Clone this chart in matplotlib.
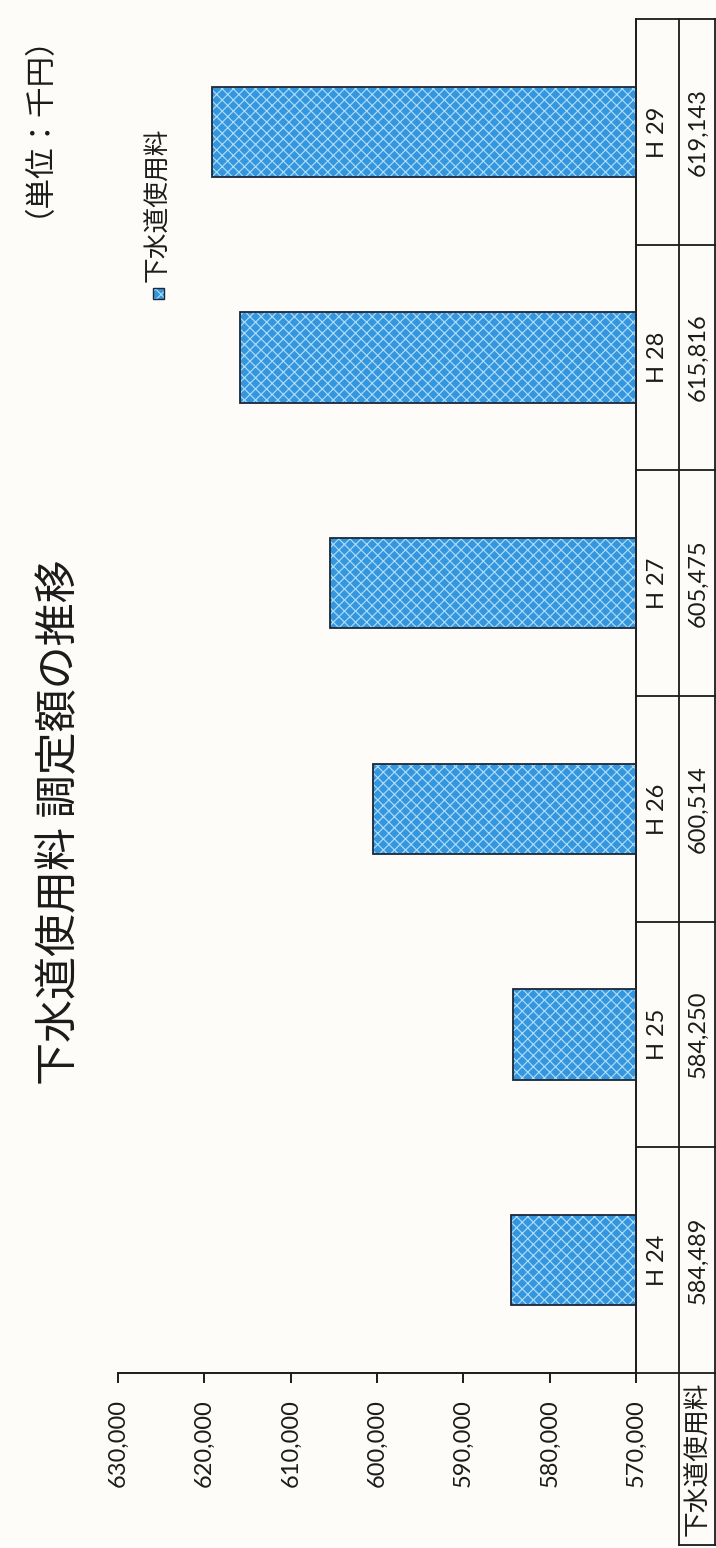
import matplotlib
matplotlib.use("Agg")
import matplotlib.pyplot as plt
from matplotlib.patches import Rectangle
from matplotlib.lines import Line2D
from matplotlib.transforms import blended_transform_factory
from matplotlib.ticker import FuncFormatter, MultipleLocator

# ---- data -------------------------------------------------------------
categories = ["H 24", "H 25", "H 26", "H 27", "H 28", "H 29"]
fees = [584489, 584250, 600514, 605475, 615816, 619143]
series_name = "下水道使用料"
title = "下水道使用料 調定額の推移"
unit_label = "（単位：千円）"
axis_min, axis_max, axis_step = 570000, 630000, 10000

# ---- style ------------------------------------------------------------
plt.rcParams["font.family"] = ["Lato", "Noto Sans CJK JP", "DejaVu Sans"]
plt.rcParams["hatch.linewidth"] = 0.85
INK = "#1b1b1b"
BAR_FACE = "#3596de"
BAR_HATCH = "#aadcf8"
BAR_EDGE = "#1c2838"
PAPER = "#fdfcf8"

W, H = 716, 1548
fig = plt.figure(figsize=(W / 100, H / 100), dpi=100, facecolor=PAPER)

# plot area (chart is laid out rotated: value axis runs along the bottom,
# categories run upward, data table on the right)
ax_left, ax_right, ax_top, ax_bottom = 118, 636, 19, 1373
ax = fig.add_axes([ax_left / W, 1 - ax_bottom / H,
                   (ax_right - ax_left) / W, (ax_bottom - ax_top) / H])
ax.set_facecolor("none")

ypos = list(range(len(categories)))
widths = [v - axis_min for v in fees]
ax.barh(ypos, widths, left=axis_min, height=0.4, color=BAR_FACE,
        hatch="xxx", edgecolor=BAR_HATCH, linewidth=0, zorder=2)
ax.barh(ypos, widths, left=axis_min, height=0.4, facecolor="none",
        edgecolor=BAR_EDGE, linewidth=1.3, zorder=3)

ax.set_xlim(axis_max, axis_min)
ax.set_ylim(-0.5, len(categories) - 0.5)
ax.xaxis.set_major_locator(MultipleLocator(axis_step))
ax.xaxis.set_major_formatter(FuncFormatter(lambda v, p: f"{int(v):,}"))
ax.tick_params(axis="x", direction="out", length=7, width=1.4, color=INK,
               pad=12, labelsize=17, labelcolor=INK, labelrotation=90)
for lbl in ax.get_xticklabels():
    lbl.set_va("top")
ax.set_yticks([])
for side in ("left", "top"):
    ax.spines[side].set_visible(False)
for side in ("bottom", "right"):
    ax.spines[side].set_linewidth(1.4)
    ax.spines[side].set_color(INK)

# ---- data table -------------------------------------------------------
col_a, col_b, col_c = 636 / W, 679 / W, 715 / W
trans = blended_transform_factory(fig.transFigure, ax.transData)
lw_tab = 1.3
for k in range(len(categories) + 1):
    fig.add_artist(Line2D([col_a, col_c], [k - 0.5, k - 0.5],
                          transform=trans, color=INK, lw=lw_tab))
for x in (col_b, col_c):
    fig.add_artist(Line2D([x, x], [-0.5, len(categories) - 0.5],
                          transform=trans, color=INK, lw=lw_tab))
# header cell below the table body
hdr_bottom = 1 - 1545 / H
hdr_top = 1 - ax_bottom / H
for x in (col_b, col_c):
    fig.add_artist(Line2D([x, x], [hdr_top, hdr_bottom],
                          transform=fig.transFigure, color=INK, lw=lw_tab))
fig.add_artist(Line2D([col_b, col_c], [hdr_bottom, hdr_bottom],
                      transform=fig.transFigure, color=INK, lw=lw_tab))

for y, cat, val in zip(ypos, categories, fees):
    fig.text((col_a + col_b) / 2, y, cat, transform=trans, rotation=90,
             ha="center", va="center", fontsize=17, color=INK)
    fig.text((col_b + col_c) / 2 + 1 / W, y, f"{val:,}", transform=trans,
             rotation=90, ha="center", va="center", fontsize=17, color=INK)
fig.text((col_b + col_c) / 2 + 1 / W, (hdr_top + hdr_bottom) / 2, series_name,
         rotation=90, ha="center", va="center", fontsize=18.5, color=INK,
         family=["Noto Sans CJK JP"])

# ---- legend -----------------------------------------------------------
key_w, key_h = 11 / W, 11 / H
key_x, key_y = 153 / W, 1 - 299 / H
fig.add_artist(Rectangle((key_x, key_y), key_w, key_h, transform=fig.transFigure,
                         facecolor=BAR_FACE, hatch="xxx", edgecolor=BAR_HATCH,
                         linewidth=0))
fig.add_artist(Rectangle((key_x, key_y), key_w, key_h, transform=fig.transFigure,
                         facecolor="none", edgecolor=BAR_EDGE, linewidth=1.0))
fig.text(158 / W, 1 - 282 / H, series_name, rotation=90, ha="center",
         va="bottom", fontsize=18.5, color=INK, family=["Noto Sans CJK JP"])

# ---- titles -----------------------------------------------------------
fig.text(60 / W, 1 - 822 / H, title, rotation=90, ha="center", va="center",
         fontsize=31, color=INK, family=["Noto Sans CJK JP"])
fig.text(22 / W, 1 - 110 / H, unit_label, rotation=90, ha="center",
         va="center", fontsize=22, color=INK, family=["Noto Sans CJK JP"])

fig.savefig("out.png", dpi=100, facecolor=PAPER)
